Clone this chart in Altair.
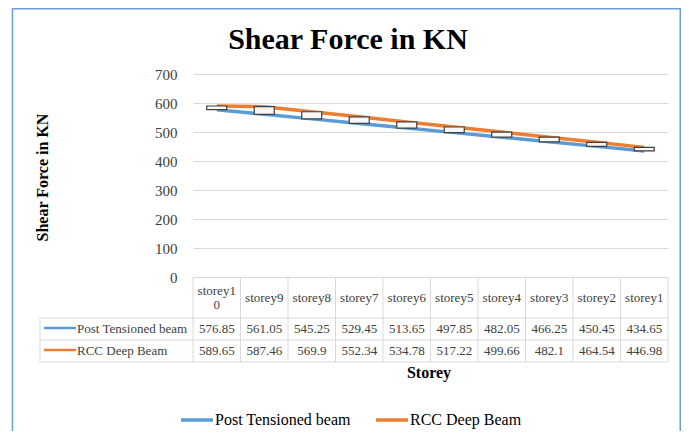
import altair as alt
import pandas as pd

# ---------------- data ----------------
storeys = ["storey10", "storey9", "storey8", "storey7", "storey6",
           "storey5", "storey4", "storey3", "storey2", "storey1"]
post_tensioned = [576.85, 561.05, 545.25, 529.45, 513.65, 497.85, 482.05, 466.25, 450.45, 434.65]
rcc_deep = [589.65, 587.46, 569.9, 552.34, 534.78, 517.22, 499.66, 482.1, 464.54, 446.98]
series_names = ["Post Tensioned beam", "RCC Deep Beam"]
series_colors = ["#5B9BD5", "#ED7D31"]
y_ticks = [0, 100, 200, 300, 400, 500, 600, 700]
chart_title = "Shear Force in KN"
y_title = "Shear Force in KN"
x_title = "Storey"

FONT = "Liberation Serif"
GRID = "#d9d9d9"
TXT = "#404040"

# ---------------- tables ----------------
rows = []
for name, vals in zip(series_names, [post_tensioned, rcc_deep]):
    for s, v in zip(storeys, vals):
        rows.append({"storey": s, "series": name, "value": v, "label": str(v)})
long = pd.DataFrame(rows)
wide = pd.DataFrame({"storey": storeys, "pt": post_tensioned, "rcc": rcc_deep})
header = pd.DataFrame({
    "storey": storeys,
    "hdr": [s if len(s) <= 7 else s[:7] + "\n" + s[7:] for s in storeys],
})
header["wrapped"] = header["hdr"].str.contains("\n")
names_df = pd.DataFrame({"series": series_names})
one = pd.DataFrame({"k": [0]})

# ---------------- layout constants ----------------
W, H = 475, 203
HALF = W / len(storeys) / 2
ROW_Y = {series_names[0]: 255, series_names[1]: 277}
HDR_Y = 224
LINE_H = 14
TABLE_LEFT = -153
TABLE_LINES_Y = [244, 266, 288]

X = alt.X("storey:N", sort=storeys,
          scale=alt.Scale(type="point", padding=0.5, domain=storeys),
          axis=None)
yaxis = alt.Axis(values=y_ticks, grid=True, gridColor=GRID, gridWidth=1,
                 domain=False, ticks=False, tickSize=0, labelPadding=16,
                 labelFont=FONT, labelFontSize=15, labelColor=TXT,
                 title=y_title, titleFont=FONT, titleFontSize=16,
                 titleFontWeight="bold", titleColor="black",
                 titleAngle=270, titleX=-151, titleY=103,
                 titleAlign="center", titleBaseline="middle")
Y = alt.Y("value:Q", scale=alt.Scale(domain=[0, 700]), axis=yaxis)
color = alt.Color("series:N",
                  scale=alt.Scale(domain=series_names, range=series_colors),
                  legend=alt.Legend(title=None, orient="none", direction="horizontal",
                                    legendX=-14, legendY=328, padding=0,
                                    symbolType="stroke", symbolSize=1024,
                                    symbolStrokeWidth=3.5, labelOffset=0,
                                    columnPadding=18,
                                    labelFont=FONT, labelFontSize=16,
                                    labelColor="black"))

layers = []

# frame
layers.append(alt.Chart(one).mark_rect(fillOpacity=0, stroke="#6A9FD8", strokeWidth=1.5).encode(
    x=alt.value(-180.5), x2=alt.value(487.25), y=alt.value(-65.25), y2=alt.value(400)))

# title
layers.append(alt.Chart(pd.DataFrame({"t": [chart_title]})).mark_text(
    font=FONT, fontSize=30, fontWeight="bold", color="black",
    align="center", baseline="alphabetic").encode(
    text="t:N", x=alt.value(155), y=alt.value(-25)))

# lines
layers.append(alt.Chart(long).mark_line(strokeWidth=3.5).encode(
    x=X, y=Y, color=color))

# up/down boxes
layers.append(alt.Chart(wide).mark_bar(size=20, fill="#f7f7f7", stroke="#404040",
                                       strokeWidth=1.2).encode(
    x=X, y=alt.Y("pt:Q", scale=alt.Scale(domain=[0, 700]), axis=yaxis), y2="rcc:Q"))

# table grid: vertical lines
layers.append(alt.Chart(wide).mark_rule(xOffset=-HALF, color=GRID, strokeWidth=1).encode(
    x=X, y=alt.value(H), y2=alt.value(TABLE_LINES_Y[-1])))
layers.append(alt.Chart(one).mark_rule(color=GRID, strokeWidth=1).encode(
    x=alt.value(W), y=alt.value(H), y2=alt.value(TABLE_LINES_Y[-1])))
layers.append(alt.Chart(one).mark_rule(color=GRID, strokeWidth=1).encode(
    x=alt.value(TABLE_LEFT), y=alt.value(TABLE_LINES_Y[0]), y2=alt.value(TABLE_LINES_Y[-1])))
# table grid: horizontal lines
for yy in TABLE_LINES_Y:
    layers.append(alt.Chart(one).mark_rule(color=GRID, strokeWidth=1).encode(
        x=alt.value(TABLE_LEFT), x2=alt.value(W), y=alt.value(yy)))

# header (single-line and wrapped labels centred in the header cell)
for wrapped, dy in [(False, 0), (True, -LINE_H / 2)]:
    layers.append(alt.Chart(header[header["wrapped"] == wrapped]).mark_text(
        font=FONT, fontSize=13, color=TXT, lineBreak="\n", lineHeight=LINE_H,
        align="center", baseline="middle").encode(
        x=X, y=alt.value(HDR_Y + dy), text="hdr:N"))

# rows
for name in series_names:
    sub = long[long["series"] == name]
    layers.append(alt.Chart(sub).mark_text(font=FONT, fontSize=13, color=TXT,
                                           align="center", baseline="middle").encode(
        x=X, y=alt.value(ROW_Y[name]), text="label:N"))
    nd = names_df[names_df["series"] == name]
    layers.append(alt.Chart(nd).mark_rule(strokeWidth=2.5).encode(
        x=alt.value(-149), x2=alt.value(-117), y=alt.value(ROW_Y[name] - 1),
        color=color))
    layers.append(alt.Chart(nd).mark_text(font=FONT, fontSize=13, color=TXT,
                                          align="left", baseline="middle").encode(
        x=alt.value(-116), y=alt.value(ROW_Y[name]), text="series:N"))

# x title
layers.append(alt.Chart(pd.DataFrame({"t": [x_title]})).mark_text(
    font=FONT, fontSize=16, fontWeight="bold", color="black",
    align="center", baseline="alphabetic").encode(
    text="t:N", x=alt.value(236), y=alt.value(304)))

chart = alt.layer(*layers).properties(
    width=W, height=H,
    autosize=alt.AutoSizeParams(type="none"),
    padding={"left": 185, "top": 66, "right": 13, "bottom": 154},
).configure_view(strokeWidth=0)

chart.save("out.html", embed_options={"renderer": "svg", "actions": False})
